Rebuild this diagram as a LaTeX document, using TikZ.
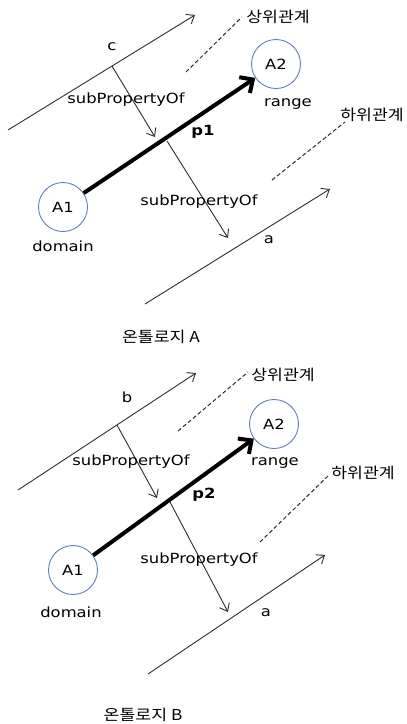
\documentclass[tikz,border=0pt]{standalone}
\usepackage{fontspec}
\setmainfont{DejaVu Sans}[FakeStretch=1.17]
\newfontfamily\kofont{Noto Sans CJK KR}[FakeStretch=1.15]
\usepackage{tikz}
\usetikzlibrary{arrows.meta, calc}
\definecolor{linegray}{RGB}{45, 45, 45}
\definecolor{circblue}{HTML}{5D7FB3}

\tikzset{
	relline/.style={draw=linegray, line width=0.9pt, -{Straight Barb[length=7pt, width=11pt]}},
	subarrow/.style={draw=linegray, line width=0.9pt, -{Straight Barb[length=7pt, width=11pt]}},
	levelline/.style={draw=linegray, line width=1pt, dash pattern=on 4pt off 2.5pt},
	propline/.style={draw=black, line width=4pt, -{Straight Barb[length=10pt, width=19pt]}},
	classnode/.style={circle, draw=circblue, line width=0.9pt, minimum size=49pt, inner sep=0pt, font=\fontsize{14}{16}\selectfont},
	lbl/.style={inner sep=0pt, font=\fontsize{14}{16}\selectfont},
	kolbl/.style={inner sep=0pt, font=\kofont\fontsize{15}{17}\selectfont}
}

\begin{document}
\begin{tikzpicture}[x=1pt, y=-1pt]
	\useasboundingbox (0,0) rectangle (407,724);
	% ontology A
	\begin{scope}
		\coordinate (cS) at (8,130);
		\coordinate (cE) at (195,15);
		\draw[relline] (cS) -- (cE);
		\node[lbl] (cLbl) at (112,47) {c};
		\coordinate (supAs) at (186,72);
		\coordinate (supAe) at (242,17);
		\draw[levelline] (supAs) -- (supAe);
		\node[kolbl] (supA) at (278,17) {상위관계};
		\node[classnode] (a2A) at (276,64) {A2};
		\node[lbl] (rngA) at (288,104) {range};
		\node[classnode] (a1A) at (63,207) {A1};
		\node[lbl] (domA) at (63,246) {domain};
		\draw[propline] (a1A) -- (a2A);
		\node[lbl, font=\fontsize{14}{16}\selectfont\bfseries] (p1) at (203,132) {p1};
		\coordinate (subA1s) at ($(cS)!0.556!(cE)$);
		\coordinate (subA1e) at (155,137);
		\draw[subarrow] (subA1s) -- (subA1e);
		\node[lbl] (subA1) at (126,100) {subPropertyOf};
		\coordinate (aS) at (145,304);
		\coordinate (aE) at (330,189);
		\coordinate (subA2s) at (167,141);
		\coordinate (subA2e) at (228,238);
		\draw[subarrow] (subA2s) -- (subA2e);
		\node[lbl] (subA2) at (199,202) {subPropertyOf};
		\draw[relline] (aS) -- (aE);
		\node[lbl] (aLblA) at (269,240) {a};
		\coordinate (subAs) at (272,180);
		\coordinate (subAe) at (345,122);
		\draw[levelline] (subAs) -- (subAe);
		\node[kolbl] (infA) at (372,115) {하위관계};
		\node[kolbl] (ontA) at (161,337) {온톨로지 A};
	\end{scope}
	% ontology B
	\begin{scope}
		\coordinate (bS) at (18,490);
		\coordinate (bE) at (196,373);
		\draw[relline] (bS) -- (bE);
		\node[lbl] (bLbl) at (127,397) {b};
		\coordinate (supBs) at (178,431);
		\coordinate (supBe) at (248,372);
		\draw[levelline] (supBs) -- (supBe);
		\node[kolbl] (supB) at (283,375) {상위관계};
		\node[classnode] (a2B) at (274,424) {A2};
		\node[lbl] (rngB) at (275,463) {range};
		\node[classnode] (a1B) at (73,570) {A1};
		\node[lbl] (domB) at (71,612) {domain};
		\draw[propline] (a1B) -- (a2B);
		\node[lbl, font=\fontsize{14}{16}\selectfont\bfseries] (p2) at (204,495) {p2};
		\coordinate (subB1s) at ($(bS)!0.556!(bE)$);
		\coordinate (subB1e) at (157,498);
		\draw[subarrow] (subB1s) -- (subB1e);
		\node[lbl] (subB1) at (131,462) {subPropertyOf};
		\coordinate (a2S) at (148,674);
		\coordinate (a2E) at (325,555);
		\coordinate (subB2s) at (170,502);
		\coordinate (subB2e) at (228,612);
		\draw[subarrow] (subB2s) -- (subB2e);
		\node[lbl] (subB2) at (199,560) {subPropertyOf};
		\draw[relline] (a2S) -- (a2E);
		\node[lbl] (aLblB) at (266,613) {a};
		\coordinate (subBs) at (260,542);
		\coordinate (subBe) at (328,476);
		\draw[levelline] (subBs) -- (subBe);
		\node[kolbl] (infB) at (363,473) {하위관계};
		\node[kolbl] (ontB) at (143,715) {온톨로지 B};
	\end{scope}
\end{tikzpicture}
\end{document}
